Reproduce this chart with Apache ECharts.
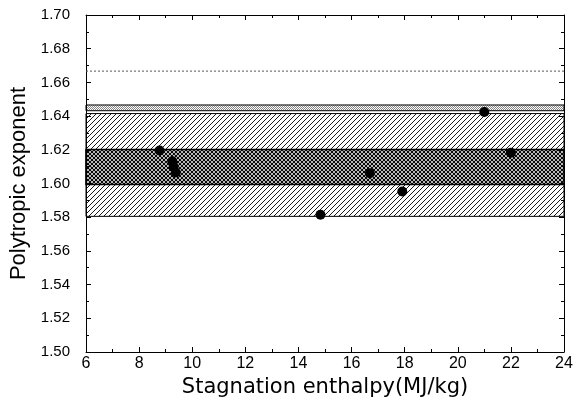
<!DOCTYPE html>
<html>
<head>
<meta charset="utf-8">
<script src="https://cdn.jsdelivr.net/npm/echarts@6/dist/echarts.min.js"></script>
<style>
  html, body { margin: 0; padding: 0; background: #fff; }
  #main { width: 583px; height: 416px; }
</style>
</head>
<body>
<div id="main"></div>
<script>
  // measured points
  let enthalpy = [8.77, 9.25, 9.3, 9.38, 14.83, 16.69, 17.91, 21.0, 22.0]
  let exponent = [1.6196, 1.6132, 1.6100, 1.6065, 1.5815, 1.6061, 1.5952, 1.6424, 1.6183]

  // horizontal bands
  let hatchBand = [1.5805, 1.6415]
  let crossBand = [1.5994, 1.6202]
  let stippleBand = [1.6432, 1.6466]
  let dottedLevel = 1.6667

  let xTicks = { min: 6, max: 24, step: 2 }
  let yTicks = { min: 1.5, max: 1.7, step: 0.02 }

  // pattern tiles
  function makeHatch(size, both, width) {
    let c = document.createElement('canvas')
    c.width = size
    c.height = size
    let ctx = c.getContext('2d')
    ctx.fillStyle = '#fff'
    ctx.fillRect(0, 0, size, size)
    ctx.strokeStyle = '#000'
    ctx.lineWidth = width
    let seg = (x0, y0, x1, y1) => {
      ctx.beginPath()
      ctx.moveTo(x0, y0)
      ctx.lineTo(x1, y1)
      ctx.stroke()
    }
    seg(-1, size + 1, size + 1, -1)
    seg(-1, 1, 1, -1)
    seg(size - 1, size + 1, size + 1, size - 1)
    if (both) {
      seg(-1, -1, size + 1, size + 1)
      seg(size - 1, -1, size + 1, 1)
      seg(-1, size - 1, 1, size + 1)
    }
    return c
  }

  function makeStipple() {
    let c = document.createElement('canvas')
    c.width = 2
    c.height = 2
    let ctx = c.getContext('2d')
    ctx.fillStyle = '#fff'
    ctx.fillRect(0, 0, 2, 2)
    ctx.fillStyle = '#888'
    ctx.fillRect(0, 0, 1, 1)
    ctx.fillRect(1, 1, 1, 1)
    return c
  }

  let hatchFill = { image: makeHatch(5, false, 0.9), repeat: 'repeat' }
  let crossFill = { image: makeHatch(4, true, 1.1), repeat: 'repeat' }
  let stippleFill = { image: makeStipple(), repeat: 'repeat' }

  let frameAxis = (extra) => Object.assign({
    type: 'value',
    axisLine: { show: true, onZero: false, lineStyle: { color: '#000', width: 1 } },
    axisTick: { show: true, inside: true, length: 5, lineStyle: { color: '#000' } },
    minorTick: { show: true, splitNumber: 2, length: 3, lineStyle: { color: '#000' } },
    splitLine: { show: false },
  }, extra)

  let chart = echarts.init(document.getElementById('main'))
  chart.setOption({
    animation: false,
    backgroundColor: '#fff',
    grid: { left: 86, right: 19, top: 15, bottom: 64, outerBoundsMode: 'none', containLabel: false },
    xAxis: [
      frameAxis({
        min: xTicks.min, max: xTicks.max, interval: xTicks.step,
        axisLabel: { margin: 4, fontFamily: 'Liberation Sans', fontSize: 16, color: '#000' },
        name: 'Stagnation enthalpy(MJ/kg)',
        nameLocation: 'middle',
        nameGap: 22,
        nameTextStyle: { fontFamily: 'DejaVu Sans', fontSize: 21, color: '#000', verticalAlign: 'top' },
      }),
      frameAxis({
        position: 'top',
        min: xTicks.min, max: xTicks.max, interval: xTicks.step,
        axisLabel: { show: false },
      }),
    ],
    yAxis: [
      frameAxis({
        min: yTicks.min, max: yTicks.max, interval: yTicks.step,
        axisLabel: {
          margin: 16,
          formatter: (v) => v.toFixed(2),
          fontFamily: 'Liberation Sans',
          fontSize: 15,
          color: '#000',
        },
        name: 'Polytropic exponent',
        nameLocation: 'middle',
        nameGap: 50,
        nameTextStyle: { fontFamily: 'Liberation Sans', fontSize: 22, color: '#000' },
      }),
      frameAxis({
        position: 'right',
        min: yTicks.min, max: yTicks.max, interval: yTicks.step,
        axisLabel: { show: false },
      }),
    ],
    series: [
      {
        type: 'line',
        data: [],
        z: 0,
        markArea: {
          silent: true,
          z: 0,
          label: { show: false },
          data: [
            [
              { yAxis: hatchBand[0], itemStyle: { color: hatchFill, borderColor: '#000', borderWidth: 1 } },
              { yAxis: hatchBand[1] },
            ],
            [
              { yAxis: crossBand[0], itemStyle: { color: crossFill, borderColor: '#000', borderWidth: 1.5 } },
              { yAxis: crossBand[1] },
            ],
            [
              { yAxis: stippleBand[0], itemStyle: { color: stippleFill, borderColor: '#000', borderWidth: 1 } },
              { yAxis: stippleBand[1] },
            ],
          ],
        },
      },
      {
        // dotted reference level
        type: 'line',
        z: 2,
        symbol: 'none',
        silent: true,
        lineStyle: { color: '#555', type: [2, 2], width: 1 },
        data: [[xTicks.min, dottedLevel], [xTicks.max, dottedLevel]],
      },
      {
        type: 'scatter',
        z: 10,
        symbol: 'circle',
        symbolSize: 10,
        itemStyle: { color: '#000', opacity: 1 },
        data: enthalpy.map((x, i) => [x, exponent[i]]),
      },
    ],
  })
</script>
</body>
</html>
